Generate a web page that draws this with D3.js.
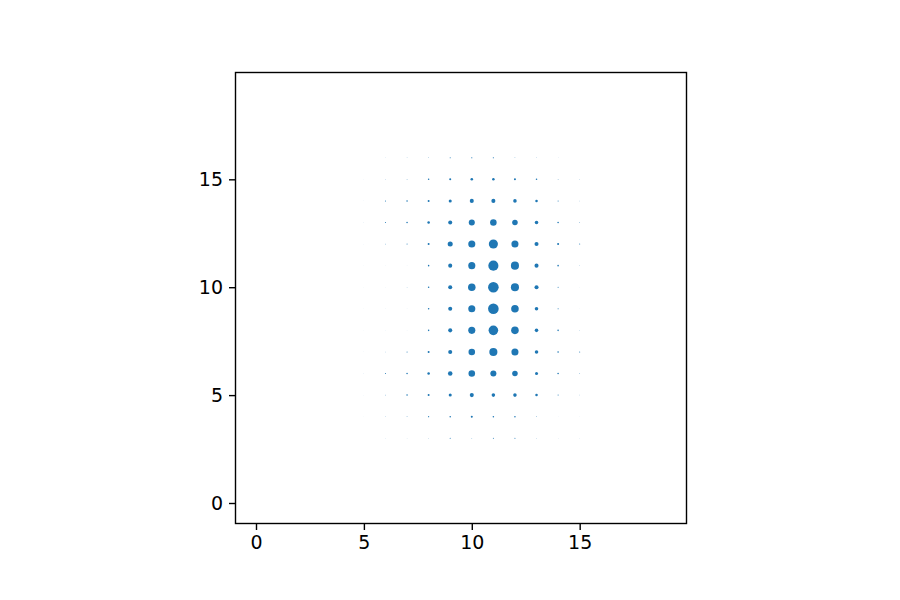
<!DOCTYPE html>
<html>
<head>
<meta charset="utf-8">
<script src="https://cdn.jsdelivr.net/npm/d3@7"></script>
<style>
  body { margin: 0; background: #fff; }
  svg text { font-family: "DejaVu Sans", sans-serif; }
</style>
</head>
<body>
<div id="chart"></div>
<script>
// grid columns (x) and rows (y) that carry a marker
const xCols = [5, 6, 7, 8, 9, 10, 11, 12, 13, 14, 15]
const yRows = [16, 15, 14, 13, 12, 11, 10, 9, 8, 7, 6, 5, 4, 3]

// marker values (area-like), one row per yRows entry, columns follow xCols
const values = [
  [0.04, 0.09, 0.25, 0.5, 1, 1.4, 1.4, 0.5, 0.25, 0.09, 0.04],
  [0.09, 0.25, 0.5, 2.3, 4, 6.3, 6.3, 4, 2.3, 0.5, 0.25],
  [0.09, 1, 2.3, 4, 9, 16, 16, 12.3, 6.3, 1, 0.25],
  [0.09, 1, 2.3, 6.3, 16, 36, 42, 30, 12.3, 2.3, 0.5],
  [0.09, 0.5, 1, 4, 25, 49, 81, 49, 16, 4, 1],
  [0.04, 0.09, 0.09, 2.3, 16, 49, 100, 64, 16, 2.3, 0.25],
  [0.04, 0.09, 0.25, 2.3, 16, 56, 110, 64, 16, 1, 0.09],
  [0.04, 0.09, 0.09, 2.3, 16, 49, 110, 56, 12.3, 1, 0.09],
  [0.04, 0.09, 0.09, 2.3, 16, 49, 90, 56, 12.3, 2.3, 0.25],
  [0.09, 0.25, 1, 4, 16, 42, 64, 49, 12.3, 2.3, 1],
  [0.09, 1, 2.3, 6.3, 20, 42, 36, 30, 9, 2.3, 0.5],
  [0.09, 0.5, 2.3, 4, 9, 16, 12.3, 12.3, 6.3, 1, 0.25],
  [0.04, 0.25, 0.5, 1.4, 2.3, 4, 2.3, 2.3, 0.5, 0.09, 0.09],
  [0.04, 0.09, 0.09, 0.25, 1, 0.5, 1, 1, 0.25, 0.09, 0.09]
]

const xTicks = [0, 5, 10, 15]
const yTicks = [0, 5, 10, 15]

const width = 900, height = 600
const plot = { left: 235.5, right: 686.5, top: 72.5, bottom: 523.5 }

const svg = d3.select('#chart')
  .append('svg')
  .attr('width', width)
  .attr('height', height)

const x = d3.scaleLinear().domain([-0.95, 19.95]).range([plot.left, plot.right])
const y = d3.scaleLinear().domain([-0.95, 19.95]).range([plot.bottom, plot.top])
const r = d3.scaleSqrt().domain([0, 110]).range([0, 5.3])

// flatten the grid
let points = []
yRows.forEach((yy, i) => {
  xCols.forEach((xx, j) => {
    points.push({ x: xx, y: yy, v: values[i][j] })
  })
})

svg.append('g')
  .selectAll('circle')
  .data(points)
  .join('circle')
  .attr('cx', d => x(d.x))
  .attr('cy', d => y(d.y))
  .attr('r', d => r(d.v))
  .style('fill', '#1f77b4')

// axes
const xAxis = svg.append('g')
  .attr('transform', `translate(0,${plot.bottom})`)
  .call(d3.axisBottom(x).tickValues(xTicks).tickSize(6.5).tickPadding(6).tickSizeOuter(0))
const yAxis = svg.append('g')
  .attr('transform', `translate(${plot.left},0)`)
  .call(d3.axisLeft(y).tickValues(yTicks).tickSize(6.5).tickPadding(6).tickSizeOuter(0))

;[xAxis, yAxis].forEach(a => {
  a.select('.domain').remove()
  a.selectAll('.tick line').attr('stroke', '#000').attr('stroke-width', 1.4)
  a.selectAll('.tick text')
    .attr('fill', '#000')
    .style('font-size', '19px')
    .style('font-family', '"DejaVu Sans", sans-serif')
})

// frame
svg.append('rect')
  .attr('x', plot.left)
  .attr('y', plot.top)
  .attr('width', plot.right - plot.left)
  .attr('height', plot.bottom - plot.top)
  .style('fill', 'none')
  .style('stroke', '#000')
  .style('stroke-width', 1.4)
</script>
</body>
</html>
